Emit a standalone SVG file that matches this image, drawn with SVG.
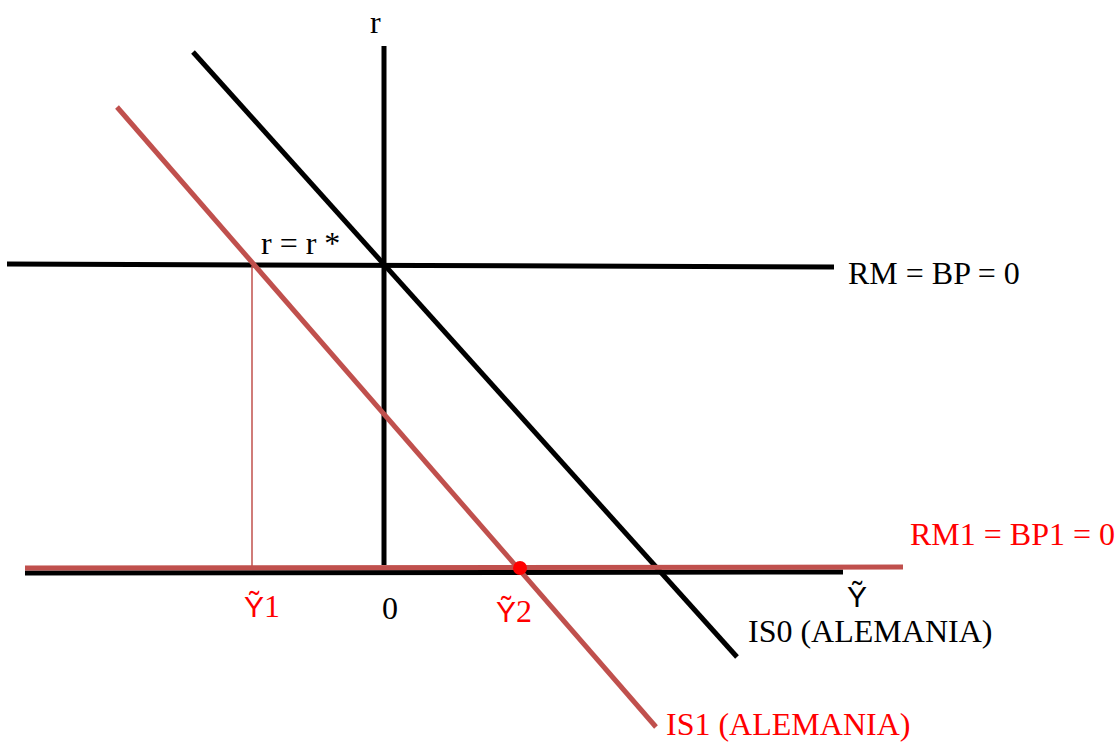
<svg xmlns="http://www.w3.org/2000/svg" width="1118" height="742" viewBox="0 0 1118 742">
<style>
.t{font-family:"Liberation Serif",serif;font-size:32px;fill:#000}
.red{fill:#ff0000}
.s{font-family:"Liberation Sans",sans-serif;font-size:30px}
.blk{stroke:#000;stroke-width:5;fill:none}
.rd{stroke:#c0504d;stroke-width:5;fill:none}
</style>
<rect width="1118" height="742" fill="#fff"/>
<g id="connectors">
<line class="blk" x1="384" y1="46" x2="384" y2="565"/>
<line class="blk" x1="7" y1="264" x2="834" y2="267"/>
<line class="blk" x1="25" y1="573" x2="843" y2="572"/>
<line class="blk" x1="193" y1="52" x2="737" y2="657"/>
<line x1="252" y1="266" x2="252" y2="567" stroke="#c0504d" stroke-width="1.5"/>
<line class="rd" x1="25" y1="568" x2="903" y2="567"/>
<line class="rd" x1="117" y1="107" x2="656" y2="727"/>
</g>
<g id="point"><circle cx="520" cy="568" r="7" fill="#ff0000"/></g>
<g id="labels">
<text class="t" x="370" y="33">r</text>
<text class="t" x="261" y="254">r = r *</text>
<text class="t" x="848" y="284">RM = BP = 0</text>
<text class="t red" x="910" y="545">RM1 = BP1 = 0</text>
<text class="t" x="847" y="607"><tspan class="s">Ỹ</tspan></text>
<text class="t" x="748" y="642">IS0 (ALEMANIA)</text>
<text class="t red" x="666" y="735">IS1 (ALEMANIA)</text>
<text class="t red" x="244" y="617"><tspan class="s">Ỹ</tspan>1</text>
<text class="t" x="382" y="619">0</text>
<text class="t red" x="496" y="622"><tspan class="s">Ỹ</tspan>2</text>
</g>
</svg>
